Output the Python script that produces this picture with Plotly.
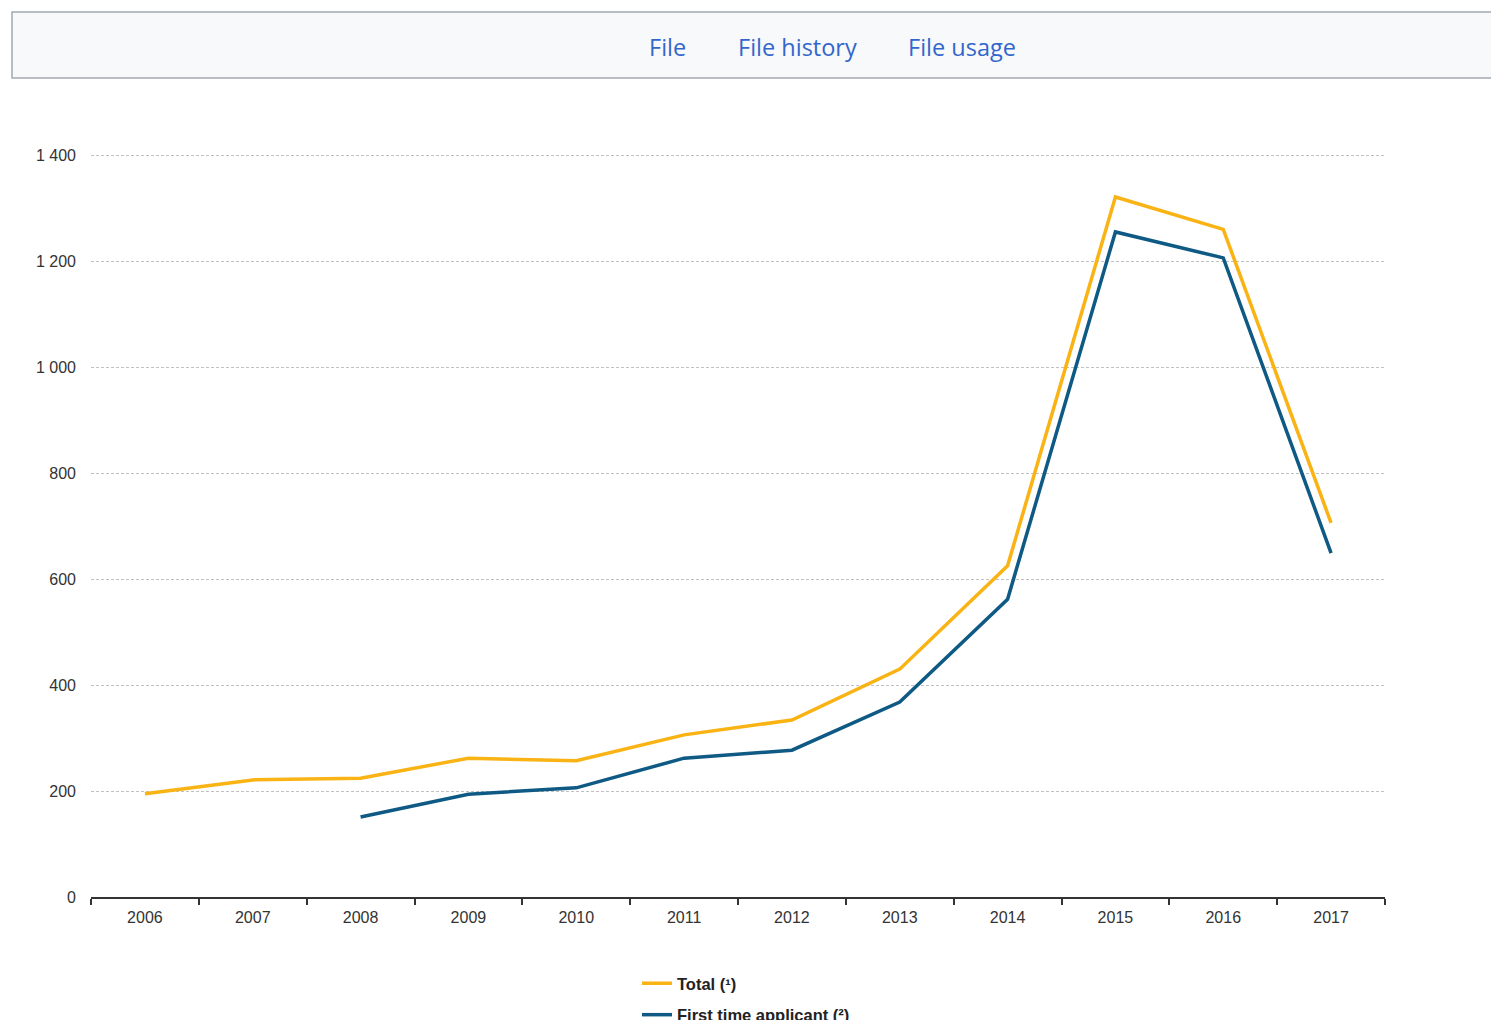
import plotly.graph_objects as go

years = ["2006", "2007", "2008", "2009", "2010", "2011", "2012", "2013", "2014", "2015", "2016", "2017"]
total = [195, 221, 224, 262, 257, 306, 334, 430, 625, 1321, 1260, 706]
first_time = [None, None, 151, 194, 206, 262, 277, 368, 562, 1255, 1206, 649]
y_ticks = [0, 200, 400, 600, 800, 1000, 1200, 1400]
tabs = ["File", "File history", "File usage"]

W, H = 1491, 1020
Y_TOP = 1404
L, R, B = 91, 1385, 897
T = round(B - (B - 155) * Y_TOP / 1400)


def px_x(p):
    return (p - L) / (R - L)


def px_y(p):
    return (B - p) / (B - T)


fig = go.Figure()
fig.add_trace(go.Scatter(x=years, y=total, mode="lines", name="Total (¹)",
                         line=dict(color="#F9B314", width=3.5), legendgroup="a"))
fig.add_trace(go.Scatter(x=years, y=first_time, mode="lines", name="First time applicant (²)",
                         line=dict(color="#0E5A84", width=3.5), legendgroup="b"))

fig.update_layout(
    width=W, height=H,
    margin=dict(l=L, r=W - R, t=T, b=H - B, autoexpand=False),
    paper_bgcolor="white", plot_bgcolor="white",
    separators=". ",
    font=dict(family="Liberation Sans, Arial, sans-serif", size=16, color="#333333"),
    showlegend=True,
    legend=dict(orientation="v", x=px_x(637), xanchor="left", y=px_y(966), yanchor="top",
                font=dict(size=16.5, color="#222222", family="Liberation Sans, Arial, sans-serif", weight="bold"),
                traceorder="grouped", tracegroupgap=7, bgcolor="rgba(0,0,0,0)"),
    xaxis=dict(type="category", range=[-0.5, 11.5], tickson="boundaries",
               ticks="outside", ticklen=6, tickwidth=1.5, tickcolor="#333333",
               showline=True, linecolor="#333333", linewidth=1.5,
               showgrid=False, zeroline=False, fixedrange=True, ticklabelstandoff=5,
               tickfont=dict(size=16, color="#333333")),
    yaxis=dict(range=[0, Y_TOP], tickvals=y_ticks, tickformat=",d",
               showgrid=True, gridcolor="#c0c0c0", griddash="3px,2px", gridwidth=1,
               zeroline=False, showline=False, ticks="", ticklabelstandoff=14,
               tickfont=dict(size=16, color="#333333"), fixedrange=True),
)

# page tab bar above the chart
fig.add_shape(type="rect", xref="paper", yref="paper",
              x0=px_x(12), x1=px_x(1510), y0=px_y(78), y1=px_y(12),
              fillcolor="#f8f9fa", line=dict(color="#a2a9b1", width=1.5), layer="below")
for txt, cx in zip(tabs, [667, 797, 962]):
    fig.add_annotation(text=txt, xref="paper", yref="paper", x=px_x(cx), y=px_y(47),
                       xanchor="center", yanchor="middle", showarrow=False,
                       font=dict(family="Open Sans, sans-serif", size=23.5, color="#3366cc"))

fig.write_html("out.html", config={"displayModeBar": False},
               post_script="document.body.style.margin='0';document.body.style.overflow='hidden';")
